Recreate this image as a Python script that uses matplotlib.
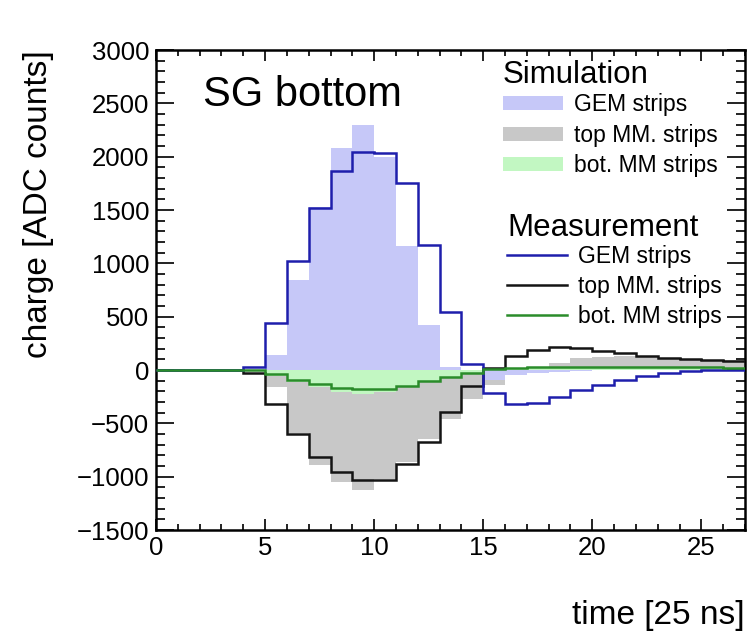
import numpy as np
import matplotlib
matplotlib.use("Agg")
import matplotlib.pyplot as plt
from matplotlib.ticker import MultipleLocator

plt.rcParams['font.family'] = ['Liberation Sans', 'DejaVu Sans']

# time bins of 25 ns, bin i covers [i, i+1)
edges = np.arange(0, 28)

# simulated charge per time bin
sim_gem = [0, 0, 0, 0, 0, 141, 844, 1530, 2080, 2298, 2001, 1163, 422, 31,
           0, -90, -50, -30, -20, -10, 0, 0, 0, 0, 0, 0, 0]
sim_top = [0, 0, 0, 0, 0, -156, -590, -891, -1054, -1126, -1025, -860, -650, -460,
           -275, -141, -40, 31, 63, 109, 125, 131, 125, 116, 103, 94, 94]
sim_bot = [0, 0, 0, 0, 0, -60, -110, -156, -203, -228, -203, -150, -105, -65,
           -30, 15, 15, 15, 15, 15, 15, 15, 15, 15, 15, 15, 15]

# measured charge per time bin
meas_gem = [0, 0, 0, 0, 31, 444, 1026, 1523, 1867, 2045, 2039, 1751, 1173, 541,
            56, -219, -319, -313, -250, -188, -138, -94, -55, -28, -8, 0, 0]
meas_top = [0, 0, 0, 0, -31, -319, -604, -819, -960, -1032, -1032, -885, -672, -391,
            -147, 16, 134, 188, 213, 203, 181, 156, 134, 116, 103, 94, 84]
meas_bot = [0, 0, 0, 0, 0, -40, -94, -134, -166, -178, -178, -147, -103, -63,
            -31, 10, 20, 25, 28, 30, 30, 30, 28, 28, 25, 25, 22]

fig = plt.figure(figsize=(7.48, 6.34), dpi=100)
ax = fig.add_axes([156 / 748, 1 - 530 / 634, 589 / 748, 480 / 634])

# simulation as filled histograms
h_sim_top = ax.stairs(sim_top, edges, fill=True, color='#c8c8c8', lw=0)
h_sim_gem = ax.stairs(sim_gem, edges, fill=True, color='#c6c8f8', lw=0)
h_sim_bot = ax.stairs(sim_bot, edges, fill=True, color='#c2f7c2', lw=0)

# measurement as step lines, above the ticks
h_meas_top = ax.stairs(meas_top, edges, baseline=None, color='#141414', lw=1.8, zorder=3)
h_meas_gem = ax.stairs(meas_gem, edges, baseline=None, color='#1e1eac', lw=1.8, zorder=3)
h_meas_bot = ax.stairs(meas_bot, edges, baseline=None, color='#2a8c2a', lw=1.8, zorder=3)

ax.set_xlim(0, 27)
ax.set_ylim(-1500, 3000)
ax.xaxis.set_major_locator(MultipleLocator(5))
ax.xaxis.set_minor_locator(MultipleLocator(1))
ax.yaxis.set_major_locator(MultipleLocator(500))
ax.yaxis.set_minor_locator(MultipleLocator(100))

ax.tick_params(which='both', direction='in', top=True, right=True,
               labelsize=18.5, width=1.3, color='#111111')
ax.tick_params(axis='y', which='major', length=13, pad=5)
ax.tick_params(axis='y', which='minor', length=6.5)
ax.tick_params(axis='x', which='major', length=8, pad=4)
ax.tick_params(axis='x', which='minor', length=4)
for sp in ax.spines.values():
    sp.set_linewidth(1.8)

ax.set_ylabel('charge [ADC counts]', fontsize=24, loc='top')
ax.yaxis.set_label_coords(-0.174, 1.0)
ax.set_xlabel('time [25 ns]', fontsize=24, loc='right')
ax.xaxis.set_label_coords(1.0, -0.146)

ax.text(0.08, 0.883, 'SG bottom', transform=ax.transAxes, fontsize=30,
        va='baseline', ha='left')

leg_kw = dict(frameon=False, fontsize=16.5, title_fontsize=22.5, alignment='left',
              loc='upper left', borderpad=0, borderaxespad=0,
              handlelength=2.6, handletextpad=0.5, labelspacing=0.32)
leg1 = ax.legend([h_sim_gem, h_sim_top, h_sim_bot],
                 ['GEM strips', 'top MM. strips', 'bot. MM strips'],
                 title='Simulation', bbox_to_anchor=(0.589, 0.979),
                 handleheight=0.55, **leg_kw)
leg1._legend_box.sep -= 2.9
ax.add_artist(leg1)
leg2 = ax.legend([h_meas_gem, h_meas_top, h_meas_bot],
                 ['GEM strips', 'top MM. strips', 'bot. MM strips'],
                 title='Measurement', bbox_to_anchor=(0.596, 0.66), **leg_kw)
leg2._legend_box.sep -= 4.3

fig.savefig('out.png', dpi=100)
